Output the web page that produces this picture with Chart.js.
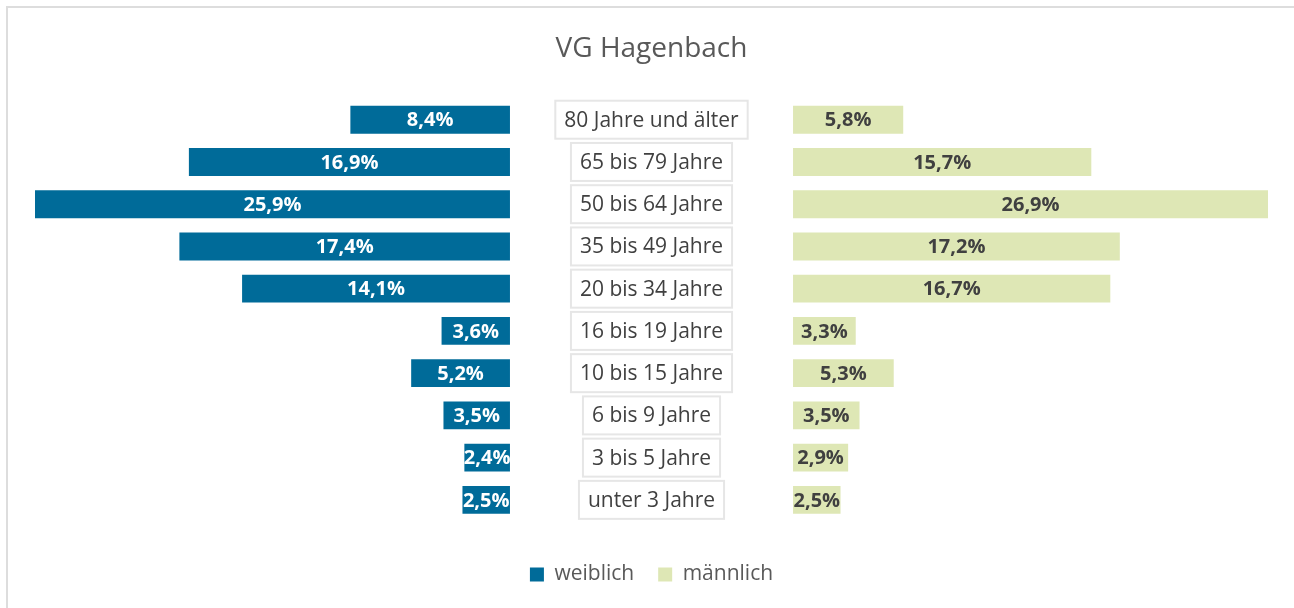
<!DOCTYPE html>
<html lang="de">
<head>
<meta charset="utf-8">
<title>VG Hagenbach</title>
<script src="https://cdn.jsdelivr.net/npm/chart.js@4/dist/chart.umd.min.js"></script>
<style>
  html, body { margin: 0; padding: 0; background: #fff; overflow: hidden; }
  .wrap { position: relative; width: 1294px; height: 608px; }
  .frame {
    position: absolute; left: 6px; top: 6px; width: 1300px; height: 620px;
    border-left: 2px solid #dddddd; border-top: 2px solid #dddddd;
  }
  canvas { position: absolute; left: 0; top: 0; }
</style>
</head>
<body>
<div class="wrap">
  <div class="frame"></div>
  <canvas id="pyramid" width="1294" height="608"></canvas>
</div>
<script>
var ageGroups = [
  '80 Jahre und älter',
  '65 bis 79 Jahre',
  '50 bis 64 Jahre',
  '35 bis 49 Jahre',
  '20 bis 34 Jahre',
  '16 bis 19 Jahre',
  '10 bis 15 Jahre',
  '6 bis 9 Jahre',
  '3 bis 5 Jahre',
  'unter 3 Jahre'
];
var weiblich = [8.4, 16.9, 25.9, 17.4, 14.1, 3.6, 5.2, 3.5, 2.4, 2.5];
var maennlich = [5.8, 15.7, 26.9, 17.2, 16.7, 3.3, 5.3, 3.5, 2.9, 2.5];
var axisMax = 25;

// half of the empty middle column (where the age labels sit), in percent units
var HALF_GAP = 7.45;

var BLUE = '#006b99';
var GREEN = '#dee7b5';
var TEXT = '#404040';
var FONT = '"Open Sans", "Noto Sans", sans-serif';

function fmt(v) {
  return v.toFixed(1).replace('.', ',') + '%';
}

// value labels centred on the visible part of each bar
var barLabels = {
  id: 'barLabels',
  afterDatasetsDraw: function(chart) {
    var ctx = chart.ctx;
    var area = chart.chartArea;
    ctx.save();
    ctx.font = 'bold 20px ' + FONT;
    ctx.textAlign = 'center';
    ctx.textBaseline = 'middle';
    chart.data.datasets.forEach(function(ds, i) {
      var meta = chart.getDatasetMeta(i);
      meta.data.forEach(function(bar, j) {
        var a = Math.max(Math.min(bar.x, bar.base), area.left);
        var b = Math.min(Math.max(bar.x, bar.base), area.right);
        ctx.fillStyle = ds.labelColor;
        ctx.fillText(fmt(ds.values[j]), (a + b) / 2, bar.y + 1);
      });
    });
    ctx.restore();
  }
};

// age group names in framed boxes between the two halves
var ageBoxes = {
  id: 'ageBoxes',
  afterDatasetsDraw: function(chart) {
    var ctx = chart.ctx;
    var yScale = chart.scales.y;
    var xScale = chart.scales.x;
    var cx = xScale.getPixelForValue(0);
    ctx.save();
    ctx.font = '21px ' + FONT;
    ctx.textAlign = 'center';
    ctx.textBaseline = 'middle';
    ageGroups.forEach(function(label, i) {
      var y = yScale.getPixelForValue(i);
      var w = ctx.measureText(label).width + 18;
      var h = 38;
      ctx.fillStyle = '#ffffff';
      ctx.fillRect(cx - w / 2, y - h / 2, w, h);
      ctx.strokeStyle = '#e6e6e6';
      ctx.lineWidth = 2;
      ctx.strokeRect(cx - w / 2, y - h / 2, w, h);
      ctx.fillStyle = TEXT;
      ctx.fillText(label, cx, y + 1);
    });
    ctx.restore();
  }
};

var chart = new Chart(document.getElementById('pyramid'), {
  type: 'bar',
  data: {
    labels: ageGroups,
    datasets: [{
      label: 'weiblich',
      data: weiblich.map(function(v) { return [-(HALF_GAP + v), -HALF_GAP]; }),
      values: weiblich,
      labelColor: '#ffffff',
      backgroundColor: BLUE
    }, {
      label: 'männlich',
      data: maennlich.map(function(v) { return [HALF_GAP, HALF_GAP + v]; }),
      values: maennlich,
      labelColor: TEXT,
      backgroundColor: GREEN
    }]
  },
  options: {
    indexAxis: 'y',
    responsive: false,
    animation: false,
    layout: { padding: { top: 10, left: 35, right: 26, bottom: 13 } },
    datasets: {
      bar: { grouped: false, categoryPercentage: 1, barPercentage: 0.66 }
    },
    scales: {
      x: {
        type: 'linear',
        min: -(axisMax + HALF_GAP),
        max: axisMax + HALF_GAP,
        ticks: { display: false },
        grid: { display: false, drawTicks: false },
        border: { display: false },
        afterFit: function(scale) { scale.height = 19; }
      },
      y: { display: false }
    },
    plugins: {
      title: {
        display: true,
        text: 'VG Hagenbach',
        color: '#595959',
        font: { family: FONT, size: 28, weight: 'normal' },
        padding: { top: 22, bottom: 33 }
      },
      legend: {
        position: 'bottom',
        labels: {
          color: '#595959',
          font: { family: FONT, size: 21 },
          boxWidth: 14,
          boxHeight: 14,
          padding: 24
        }
      },
      tooltip: { enabled: false }
    }
  },
  plugins: [barLabels, ageBoxes]
});
</script>
</body>
</html>
